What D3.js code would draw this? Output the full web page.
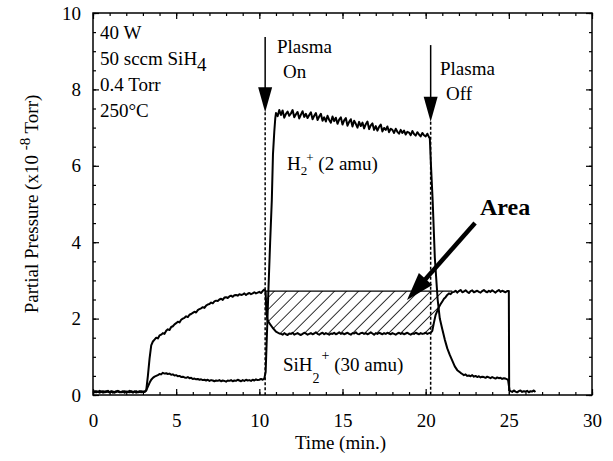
<!DOCTYPE html>
<html>
<head>
<meta charset="utf-8">
<script src="https://cdn.jsdelivr.net/npm/d3@7"></script>
<style>
  body { margin: 0; background: #fff; }
  text { font-family: "Liberation Serif", "Times New Roman", serif; fill: #000; }
</style>
</head>
<body>
<div id="chart"></div>
<script>
// tick labels
const xTicks = [0, 5, 10, 15, 20, 25, 30];
const yTicks = [0, 2, 4, 6, 8, 10];

// SiH2+ (30 amu) trace.
// noisy stretches are sampled every 0.1 min, transitions given as [t, value]
const sih2Base = [0.09,0.07,0.10,0.08,0.06,0.09,0.10,0.07,0.08,0.11,0.07,0.09,0.06,0.08,0.10,0.09,
  0.07,0.08,0.10,0.06,0.09,0.08,0.07,0.10,0.08,0.09,0.06,0.08,0.10,0.07,0.09,0.08];          // 0 .. 3.1
const sih2Rise = [[3.2,0.12],[3.3,0.5],[3.4,0.95],[3.5,1.3],[3.6,1.4]];
const sih2Grow = [1.45,1.50,1.48,1.56,1.58,1.62,1.60,1.68,1.72,1.70,1.78,1.80,1.85,1.88,1.92,1.90,
  1.97,2.00,2.02,2.06,2.04,2.10,2.12,2.15,2.18,2.16,2.22,2.25,2.27,2.30,2.28,2.34,2.37,2.38,2.42,
  2.40,2.45,2.47,2.46,2.50,2.52,2.49,2.55,2.56,2.54,2.58,2.60,2.57,2.61,2.62,2.60,2.64,2.62,2.63,
  2.66,2.62,2.65,2.67,2.64,2.66,2.69,2.66,2.68,2.70,2.67,2.72,2.76];                         // 3.7 .. 10.3
const sih2Drop = [[10.38,2.7],[10.42,2.2],[10.48,1.98],[10.6,1.88],[10.8,1.76],[11.0,1.66],[11.2,1.61]];
const sih2Low = [1.60,1.58,1.62,1.59,1.57,1.61,1.60,1.63,1.58,1.60,
  1.62,1.59,1.57,1.60,1.63,1.61,1.58,1.60,1.62,1.59,
  1.61,1.64,1.60,1.58,1.61,1.63,1.59,1.62,1.60,1.58,
  1.61,1.60,1.63,1.59,1.61,1.64,1.60,1.62,1.59,1.61,
  1.63,1.60,1.58,1.62,1.61,1.64,1.60,1.59,1.62,1.63,
  1.60,1.62,1.59,1.61,1.64,1.61,1.58,1.62,1.60,1.63,
  1.61,1.59,1.62,1.60,1.63,1.61,1.59,1.62,1.60,1.58,
  1.61,1.63,1.60,1.62,1.59,1.61,1.63,1.60,1.58,1.61,
  1.60,1.63,1.61,1.59,1.62,1.60,1.61,1.63,1.60,1.62,1.63];                                   // 11.3 .. 20.3
const sih2Recover = [[20.4,1.68],[20.5,1.9],[20.6,2.1],[20.7,2.2],[20.8,2.3],[20.9,2.38],[21.0,2.45],
  [21.1,2.52],[21.2,2.56],[21.3,2.62],[21.4,2.66],[21.5,2.64],[21.6,2.69]];
const sih2High = [2.70,2.73,2.68,2.72,2.75,2.69,2.71,2.74,2.70,2.67,2.72,2.74,2.69,2.71,2.73,2.70,
  2.68,2.72,2.75,2.71,2.69,2.73,2.70,2.74,2.71,2.68,2.72,2.75,2.70,2.73,2.71,2.69,2.72];      // 21.7 .. 24.9
const sih2Off = [[25.0,2.72],[25.02,0.12]];
const sih2Tail = [0.10,0.08,0.12,0.09,0.07,0.10,0.12,0.08,0.10,0.09,0.11,0.07,0.10,0.09,0.12,0.08]; // 25.1 .. 26.6

// H2+ (2 amu) trace
const h2Base = [0.08,0.10,0.07,0.09,0.11,0.08,0.06,0.09,0.10,0.08,0.07,0.10,0.09,0.06,0.08,0.11,
  0.09,0.07,0.08,0.10,0.07,0.09,0.11,0.08,0.06,0.09,0.10,0.07,0.08,0.10,0.08,0.09];           // 0 .. 3.1
const h2Rise = [[3.2,0.12],[3.3,0.22],[3.4,0.32],[3.5,0.4],[3.6,0.45],[3.7,0.48]];
const h2Bump = [0.50,0.52,0.55,0.54,0.58,0.56,0.57,0.55,0.56,0.53,
  0.54,0.51,0.52,0.49,0.50,0.47,0.48,0.46,0.45,0.47,
  0.44,0.45,0.42,0.43,0.41,0.42,0.40,0.41,0.39,0.40,
  0.38,0.40,0.37,0.39,0.38,0.36,0.38,0.37,0.39,0.36,
  0.38,0.37,0.35,0.38,0.37,0.39,0.36,0.38,0.37,0.40,
  0.38,0.36,0.39,0.37,0.40,0.38,0.39,0.37,0.40,0.38,
  0.41,0.39,0.40,0.42,0.40,0.43];                                                             // 3.8 .. 10.3
const h2On = [[10.38,0.6],[10.45,1.5],[10.55,2.8],[10.65,4.0],[10.75,5.1],[10.82,6.3],[10.9,6.9],
  [10.96,7.25]];
const h2Plateau = [7.38,7.30,7.46,7.33,7.45,7.26,7.36,7.42,7.31,7.37,
  7.46,7.27,7.35,7.41,7.24,7.34,7.43,7.28,7.36,7.25,
  7.33,7.40,7.22,7.31,7.38,7.20,7.29,7.36,7.18,7.27,
  7.16,7.31,7.20,7.13,7.29,7.17,7.26,7.10,7.21,7.27,
  7.08,7.19,7.25,7.05,7.15,7.22,7.03,7.18,7.10,7.00,
  7.15,7.04,7.13,6.98,7.09,7.16,6.96,7.06,7.11,6.94,
  7.04,6.92,7.02,7.08,6.90,6.99,6.94,7.03,6.88,6.97,
  6.94,6.86,6.97,6.89,6.84,6.94,6.86,6.92,6.82,6.89,
  6.87,6.80,6.91,6.83,6.79,6.88,6.82,6.77,6.86,6.80,
  6.77,6.84,6.75];                                                                            // 11.0 .. 20.2
const h2OffDrop = [[20.25,6.72],[20.32,6.0],[20.42,5.1],[20.55,3.6],[20.72,2.5],[20.85,2.0],
  [21.0,1.72],[21.15,1.45],[21.3,1.22],[21.45,1.05],[21.6,0.9],[21.75,0.75],[21.9,0.65],[22.1,0.58]];
const h2Residual = [0.55,0.52,0.54,0.50,0.51,0.49,0.52,0.48,0.50,0.47,0.49,0.46,0.48,0.47,
  0.45,0.48,0.46,0.44,0.47,0.45,0.43,0.46,0.44,0.45,0.42,0.44,0.43,0.41];                   // 22.2 .. 24.9
const h2End = [[24.95,0.4],[25.05,0.1]];

// stretches sampled at a fixed step -> [t, value]
const sampled = (t0, vals) => vals.map((v, i) => [+(t0 + i * 0.1).toFixed(2), v]);

const sih2 = [].concat(sampled(0, sih2Base), sih2Rise, sampled(3.7, sih2Grow), sih2Drop,
  sampled(11.3, sih2Low), sih2Recover, sampled(21.7, sih2High), sih2Off, sampled(25.1, sih2Tail));
const h2 = [].concat(sampled(0, h2Base), h2Rise, sampled(3.8, h2Bump), h2On,
  sampled(11.0, h2Plateau), h2OffDrop, sampled(22.2, h2Residual), h2End);

// level of the hatched "Area" top and where plasma switched on / off
const areaTop = 2.72;
const plasmaOn = 10.35, plasmaOff = 20.3;

const W = 613, H = 461;
const plot = {left: 93, right: 592, top: 13, bottom: 395};

const svg = d3.select("#chart").append("svg")
    .attr("width", W)
    .attr("height", H);

const x = d3.scaleLinear().domain([0, 30]).range([plot.left, plot.right]);
const y = d3.scaleLinear().domain([0, 10]).range([plot.bottom, plot.top]);

// hatch pattern
svg.append("defs").append("pattern")
    .attr("id", "hatch")
    .attr("patternUnits", "userSpaceOnUse")
    .attr("width", 8.5).attr("height", 8.5)
    .attr("patternTransform", "rotate(45)")
  .append("line")
    .attr("x1", 0).attr("y1", 0).attr("x2", 0).attr("y2", 8.5)
    .attr("stroke", "#000").attr("stroke-width", 1.6);

// axes: ticks inside on all four sides
const noDomain = g => g.select(".domain").remove();
const styleTicks = g => g.selectAll(".tick line").attr("stroke", "#000").attr("stroke-width", 1.2);

svg.append("g").attr("transform", `translate(0,${plot.bottom})`)
    .call(d3.axisBottom(x).tickValues(d3.range(0, 31)).tickSize(-3).tickFormat(""))
    .call(noDomain).call(styleTicks);
svg.append("g").attr("class", "x axis").attr("transform", `translate(0,${plot.bottom})`)
    .call(d3.axisBottom(x).tickValues(xTicks).tickSize(-6).tickPadding(19))
    .call(noDomain).call(styleTicks)
    .selectAll("text").style("font-size", "19px");
svg.append("g").attr("transform", `translate(0,${plot.top})`)
    .call(d3.axisTop(x).tickValues(d3.range(0, 31)).tickSize(-3).tickFormat(""))
    .call(noDomain).call(styleTicks);
svg.append("g").attr("transform", `translate(0,${plot.top})`)
    .call(d3.axisTop(x).tickValues(xTicks).tickSize(-6).tickFormat(""))
    .call(noDomain).call(styleTicks);

svg.append("g").attr("transform", `translate(${plot.left},0)`)
    .call(d3.axisLeft(y).tickValues(d3.range(0, 10.01, 0.5)).tickSize(-3).tickFormat(""))
    .call(noDomain).call(styleTicks);
svg.append("g").attr("class", "y axis").attr("transform", `translate(${plot.left},0)`)
    .call(d3.axisLeft(y).tickValues(yTicks).tickSize(-6).tickPadding(12))
    .call(noDomain).call(styleTicks)
    .selectAll("text").style("font-size", "19px");
svg.append("g").attr("transform", `translate(${plot.right},0)`)
    .call(d3.axisRight(y).tickValues(d3.range(0, 10.01, 0.5)).tickSize(-3).tickFormat(""))
    .call(noDomain).call(styleTicks);
svg.append("g").attr("transform", `translate(${plot.right},0)`)
    .call(d3.axisRight(y).tickValues(yTicks).tickSize(-6).tickFormat(""))
    .call(noDomain).call(styleTicks);

// frame
svg.append("rect")
    .attr("x", plot.left).attr("y", plot.top)
    .attr("width", plot.right - plot.left).attr("height", plot.bottom - plot.top)
    .attr("fill", "none").attr("stroke", "#000").attr("stroke-width", 1.5);

// hatched area between the pre-plasma SiH2 level and the depleted trace
const hatchData = sih2.filter(d => d[0] >= 10.38 && d[0] <= 21.6);
svg.append("path")
    .datum(hatchData)
    .attr("fill", "url(#hatch)")
    .attr("d", d3.area()
        .x(d => x(d[0]))
        .y0(y(areaTop))
        .y1(d => y(Math.min(d[1], areaTop))));
svg.append("line")
    .attr("x1", x(10.38)).attr("x2", x(21.6))
    .attr("y1", y(areaTop)).attr("y2", y(areaTop))
    .attr("stroke", "#000").attr("stroke-width", 1.4);

// traces
const line = d3.line().x(d => x(d[0])).y(d => y(d[1]));
[sih2, h2].forEach(s => {
  svg.append("path")
      .datum(s)
      .attr("fill", "none")
      .attr("stroke", "#000")
      .attr("stroke-width", 2)
      .attr("stroke-linejoin", "round")
      .attr("d", line);
});

// arrow helper (pixel coords)
function arrow(x1, y1, x2, y2, width, headLen, headHalf) {
  const dx = x2 - x1, dy = y2 - y1, len = Math.hypot(dx, dy);
  const ux = dx / len, uy = dy / len;
  const bx = x2 - ux * headLen, by = y2 - uy * headLen;
  svg.append("line")
      .attr("x1", x1).attr("y1", y1).attr("x2", bx + ux * 2).attr("y2", by + uy * 2)
      .attr("stroke", "#000").attr("stroke-width", width);
  svg.append("polygon")
      .attr("points", [[x2, y2], [bx - uy * headHalf, by + ux * headHalf], [bx + uy * headHalf, by - ux * headHalf]].join(" "))
      .attr("fill", "#000");
}

// plasma on/off markers
[[plasmaOn, 9.37, 7.4], [plasmaOff, 9.16, 7.15]].forEach(([t, top, tip]) => {
  svg.append("line")
      .attr("x1", x(t)).attr("x2", x(t))
      .attr("y1", y(tip)).attr("y2", y(0))
      .attr("stroke", "#000").attr("stroke-width", 1.5)
      .attr("stroke-dasharray", "3,2");
  arrow(x(t), y(top), x(t), y(tip), 1.5, 25, 7);
});

// "Area" arrow
arrow(x(22.97), y(4.5), x(18.88), y(2.49), 4.5, 28, 9);

// labels
const label = (tx, ty, str, size) => svg.append("text")
    .attr("x", tx).attr("y", ty).style("font-size", (size || 19) + "px").text(str);

label(100, 39, "40 W");
const sccm = label(100, 65, "50 sccm SiH");
sccm.append("tspan").attr("dy", 6).text("4");
label(100, 91, "0.4 Torr");
label(100, 117, "250°C");

label(277, 53, "Plasma");
label(283, 78, "On");
label(440, 75, "Plasma");
label(446, 100, "Off");

const h2Lab = label(287, 170, "H");
h2Lab.append("tspan").attr("dy", 5).style("font-size", "13px").text("2");
h2Lab.append("tspan").attr("dx", -1).attr("dy", -13).style("font-size", "13px").text("+");
h2Lab.append("tspan").attr("dy", 8).text(" (2 amu)");

const siLab = label(283, 371, "SiH");
siLab.append("tspan").attr("dy", 12).style("font-size", "14px").text("2");
siLab.append("tspan").attr("dx", 2).attr("dy", -23).style("font-size", "14px").text("+");
siLab.append("tspan").attr("dy", 11).text(" (30 amu)");

label(480, 215, "Area", 24).style("font-weight", "bold");

// axis titles
svg.append("text")
    .attr("x", (plot.left + plot.right) / 2 - 2)
    .attr("y", 449)
    .attr("text-anchor", "middle")
    .style("font-size", "19px")
    .text("Time (min.)");

const yTitle = svg.append("text")
    .attr("transform", `translate(38,${(plot.top + plot.bottom) / 2}) rotate(-90)`)
    .attr("text-anchor", "middle")
    .style("font-size", "19px")
    .text("Partial Pressure (x10 ");
yTitle.append("tspan").attr("dy", -8).style("font-size", "15px").text("-8");
yTitle.append("tspan").attr("dy", 8).text(" Torr)");
</script>
</body>
</html>
